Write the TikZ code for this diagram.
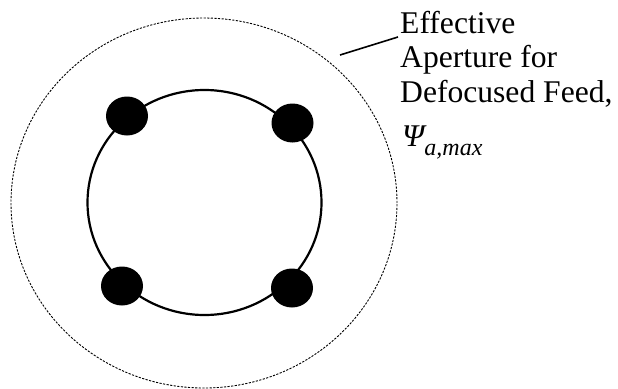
\documentclass[tikz,border=0pt]{standalone}
\usepackage{fontspec}
\setmainfont{Liberation Serif}
\usepackage{graphicx}
\usepackage{xcolor}
\usepackage{tikz}
\usetikzlibrary{arrows.meta, positioning, shapes.geometric, calc}
\newcommand{\lbltext}[1]{\scalebox{0.8}{\fontsize{39.5pt}{39.5pt}\selectfont #1}}

\begin{document}
\begin{tikzpicture}[x=1pt, y=-1pt,
    aperture/.style={ellipse, draw, line width=0.9pt, dash pattern=on 2.2pt off 1.4pt,
                     minimum width=386pt, minimum height=370pt, inner sep=0pt},
    ring/.style={ellipse, draw, line width=2.2pt,
                 minimum width=234pt, minimum height=225pt, inner sep=0pt},
    feed/.style={ellipse, fill=black, minimum width=42pt, minimum height=39pt, inner sep=0pt},
    lbl/.style={anchor=base west, inner sep=0pt}
]
\useasboundingbox (0,0) rectangle (618,388);

\node[aperture] (outer) at (204,203) {};
\node[ring] (inner) at (204.5,202.5) {};

% feeds sitting on the inner ring
\foreach \n/\p in {ul/{(127,116)}, ur/{(292.5,123)}, ll/{(122,286)}, lr/{(292,288)}}
    \node[feed] (\n) at \p {};

% label, one node per line
\node[lbl] (eff) at (400,33) {\lbltext{Effective}};
\node[lbl] (apt) at (400,67.5) {\lbltext{Aperture for}};
\node[lbl] (dfc) at (400,102) {\lbltext{Defocused Feed,}};
\node[lbl] (psi) at (402,146)
    {\lbltext{\itshape Ψ\raisebox{-0.3em}{\fontsize{30pt}{30pt}\selectfont a,max}}};

\coordinate (lead) at (340,55);
\draw[line width=1.6pt] (lead) -- ([xshift=-2pt, yshift=-4pt]eff.base west);
\end{tikzpicture}
\end{document}
